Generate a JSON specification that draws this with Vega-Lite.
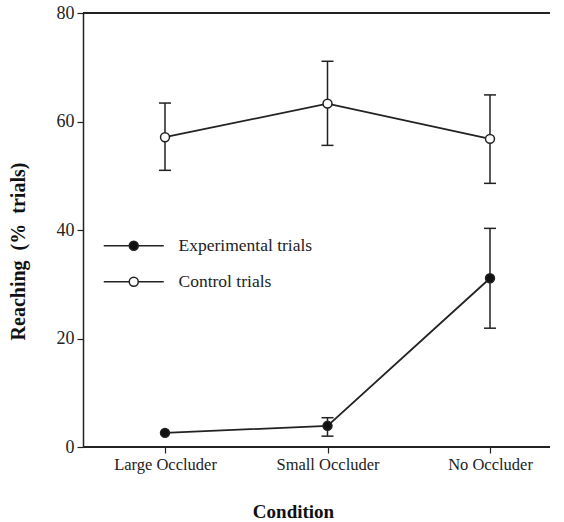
{
  "$schema": "https://vega.github.io/schema/vega-lite/v6.json",
  "width": 467,
  "height": 434,
  "autosize": {"type": "none"},
  "padding": {"left": 83, "top": 13, "right": 14, "bottom": 75},
  "background": "white",
  "config": {
    "view": {"stroke": null},
    "font": "Liberation Serif",
    "axis": {"domainColor": "#222", "tickColor": "#222", "labelColor": "#222", "titleColor": "#111", "grid": false, "labelFont": "Liberation Serif", "titleFont": "Liberation Serif"},
    "axisX": {"labelAngle": 0, "labelAlign": "center", "labelBaseline": "top"}
  },
  "data": {
    "values": [
      {"condition": "Large Occluder", "trial": "Experimental trials", "mean": 2.6, "lo": null, "hi": null},
      {"condition": "Small Occluder", "trial": "Experimental trials", "mean": 3.9, "lo": 2.0, "hi": 5.4},
      {"condition": "No Occluder", "trial": "Experimental trials", "mean": 31.1, "lo": 21.9, "hi": 40.3},
      {"condition": "Large Occluder", "trial": "Control trials", "mean": 57.1, "lo": 51.0, "hi": 63.4},
      {"condition": "Small Occluder", "trial": "Control trials", "mean": 63.3, "lo": 55.6, "hi": 71.1},
      {"condition": "No Occluder", "trial": "Control trials", "mean": 56.8, "lo": 48.6, "hi": 64.9}
    ]
  },
  "layer": [
    {
      "mark": {"type": "rule", "color": "#222", "strokeWidth": 1.5},
      "encoding": {"y": {"datum": 80, "type": "quantitative", "scale": {"domain": [0, 80]}}}
    },
    {
      "mark": {"type": "rule", "color": "#222", "strokeWidth": 1.8},
      "encoding": {"y": {"datum": 0, "type": "quantitative"}}
    },
    {
      "transform": [{"filter": "datum.lo != null"}],
      "mark": {"type": "rule", "color": "#222", "strokeWidth": 1.5},
      "encoding": {
        "x": {"field": "condition", "type": "ordinal", "sort": ["Large Occluder", "Small Occluder", "No Occluder"]},
        "y": {"field": "lo", "type": "quantitative"},
        "y2": {"field": "hi"}
      }
    },
    {
      "transform": [{"filter": "datum.lo != null"}],
      "mark": {"type": "tick", "color": "#222", "size": 12, "thickness": 1.5, "opacity": 1},
      "encoding": {
        "x": {"field": "condition", "type": "ordinal", "sort": ["Large Occluder", "Small Occluder", "No Occluder"]},
        "y": {"field": "lo", "type": "quantitative"}
      }
    },
    {
      "transform": [{"filter": "datum.lo != null"}],
      "mark": {"type": "tick", "color": "#222", "size": 12, "thickness": 1.5, "opacity": 1},
      "encoding": {
        "x": {"field": "condition", "type": "ordinal", "sort": ["Large Occluder", "Small Occluder", "No Occluder"]},
        "y": {"field": "hi", "type": "quantitative"}
      }
    },
    {
      "mark": {"type": "line", "color": "#222", "strokeWidth": 1.8},
      "encoding": {
        "x": {"field": "condition", "type": "ordinal", "sort": ["Large Occluder", "Small Occluder", "No Occluder"]},
        "y": {"field": "mean", "type": "quantitative"},
        "detail": {"field": "trial"}
      }
    },
    {
      "mark": {"type": "point", "filled": false, "size": 80, "stroke": "#222", "strokeWidth": 1.5, "opacity": 1},
      "encoding": {
        "x": {
          "field": "condition",
          "type": "ordinal",
          "sort": ["Large Occluder", "Small Occluder", "No Occluder"],
          "scale": {"type": "point", "range": [82, 407], "padding": 0},
          "axis": {"title": "Condition", "orient": "bottom", "domain": false, "labelAngle": 0, "labelAlign": "center", "labelBaseline": "top", "labelFontSize": 16.5, "labelPadding": 3, "tickSize": 6, "tickWidth": 1.2, "titleFontSize": 19, "titleFontWeight": "bold", "titlePadding": 30, "titleX": 210}
        },
        "y": {
          "field": "mean",
          "type": "quantitative",
          "axis": {"title": "Reaching\u00a0\u00a0(%\u00a0\u00a0trials)", "values": [0, 20, 40, 60, 80], "labelFontSize": 18, "tickSize": 6, "tickWidth": 1.2, "labelPadding": 3, "titleFontSize": 20, "titleFontWeight": "bold", "titlePadding": 28, "titleY": 238, "domainWidth": 1.5}
        },
        "fill": {
          "field": "trial",
          "type": "nominal",
          "scale": {"domain": ["Experimental trials", "Control trials"], "range": ["#111", "white"]},
          "legend": {
            "title": null,
            "orient": "none",
            "legendX": 42,
            "legendY": 224,
            "symbolType": "M-4,0H-0.6M0.6,0H4M-0.6,0A0.6,0.6 0 1,0 0.6,0A0.6,0.6 0 1,0 -0.6,0Z",
            "symbolSize": 225,
            "symbolStrokeColor": "#222",
            "symbolStrokeWidth": 1.5,
            "symbolOpacity": 1,
            "labelFontSize": 17.5,
            "labelFont": "Liberation Serif",
            "labelColor": "#222",
            "labelOffset": 36,
            "rowPadding": 17
          }
        }
      }
    }
  ]
}
